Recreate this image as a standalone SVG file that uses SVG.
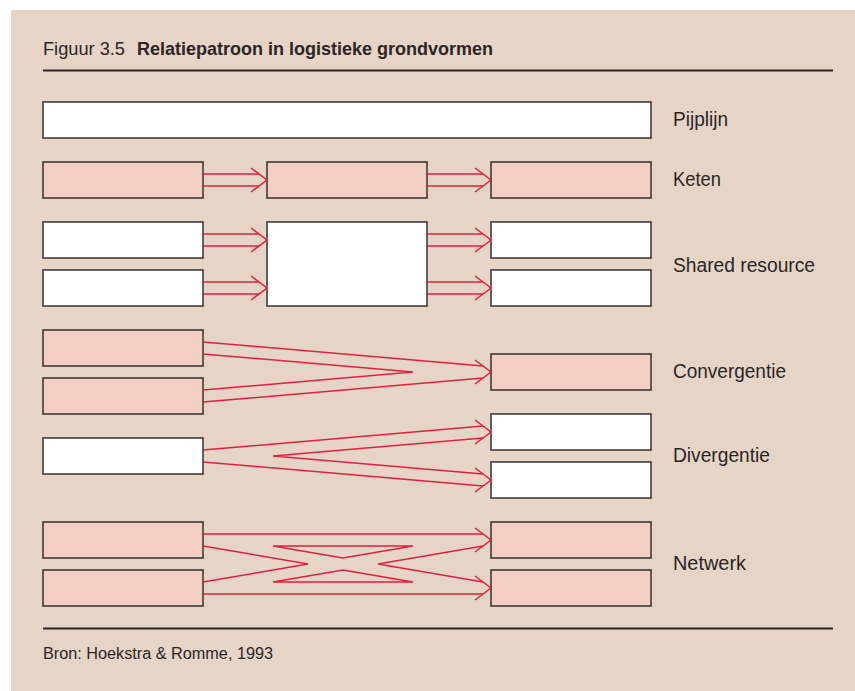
<svg xmlns="http://www.w3.org/2000/svg" xmlns:xlink="http://www.w3.org/1999/xlink" width="855" height="691" viewBox="0 0 855 691">
  <style>
    .bg { fill: #e6d5c6; }
    .rule { stroke: #2b2527; stroke-width: 2; }
    .box { stroke: #2a2426; stroke-width: 1.4; }
    .white { fill: #ffffff; }
    .pink { fill: #f4d0c4; }
    .link { fill: none; stroke: #e0213d; stroke-width: 1.5; stroke-linejoin: miter; }
    .label { font-family: "Liberation Sans", Arial, sans-serif; font-size: 19.5px; fill: #2b2527; }
    .title { font-family: "Liberation Sans", Arial, sans-serif; font-size: 18.5px; fill: #2b2527; }
    .bold { font-weight: bold; }
    .src { font-family: "Liberation Sans", Arial, sans-serif; font-size: 16px; fill: #2b2527; }
  </style>
  <defs>
    <!-- open arrowhead, tip at origin pointing right -->
    <path id="head" class="link" d="M-16,-12 L0,0 L-16,12"/>
  </defs>

  <rect class="bg" x="11" y="10" width="844" height="681"/>

  <!-- header -->
  <g id="header">
    <text class="title" x="43" y="55" textLength="82" lengthAdjust="spacingAndGlyphs">Figuur 3.5</text>
    <text class="title bold" x="137" y="55" textLength="356" lengthAdjust="spacingAndGlyphs">Relatiepatroon in logistieke grondvormen</text>
    <line class="rule" x1="43" y1="70.5" x2="833" y2="70.5"/>
  </g>

  <!-- Pijplijn -->
  <g id="pijplijn">
    <rect class="box white" x="43" y="102" width="608" height="36"/>
    <text class="label" x="673" y="126" textLength="55" lengthAdjust="spacingAndGlyphs">Pijplijn</text>
  </g>

  <!-- Keten -->
  <g id="keten">
    <rect id="keten-1" class="box pink" x="43" y="162" width="160" height="36"/>
    <rect id="keten-2" class="box pink" x="267" y="162" width="160" height="36"/>
    <rect id="keten-3" class="box pink" x="491" y="162" width="160" height="36"/>
    <text class="label" x="673" y="186" textLength="48" lengthAdjust="spacingAndGlyphs">Keten</text>
  </g>

  <!-- Shared resource -->
  <g id="shared">
    <rect id="shared-in-1" class="box white" x="43" y="222" width="160" height="36"/>
    <rect id="shared-in-2" class="box white" x="43" y="270" width="160" height="36"/>
    <rect id="shared-res" class="box white" x="267" y="222" width="160" height="84"/>
    <rect id="shared-out-1" class="box white" x="491" y="222" width="160" height="36"/>
    <rect id="shared-out-2" class="box white" x="491" y="270" width="160" height="36"/>
    <text class="label" x="673" y="272" textLength="142" lengthAdjust="spacingAndGlyphs">Shared resource</text>
  </g>

  <!-- Convergentie -->
  <g id="convergentie">
    <rect id="conv-in-1" class="box pink" x="43" y="330" width="160" height="36"/>
    <rect id="conv-in-2" class="box pink" x="43" y="378" width="160" height="36"/>
    <rect id="conv-out" class="box pink" x="491" y="354" width="160" height="36"/>
    <text class="label" x="673" y="378" textLength="113" lengthAdjust="spacingAndGlyphs">Convergentie</text>
  </g>

  <!-- Divergentie -->
  <g id="divergentie">
    <rect id="div-in" class="box white" x="43" y="438" width="160" height="36"/>
    <rect id="div-out-1" class="box white" x="491" y="414" width="160" height="36"/>
    <rect id="div-out-2" class="box white" x="491" y="462" width="160" height="36"/>
    <text class="label" x="673" y="462" textLength="97" lengthAdjust="spacingAndGlyphs">Divergentie</text>
  </g>

  <!-- Netwerk -->
  <g id="netwerk">
    <rect id="net-in-1" class="box pink" x="43" y="522" width="160" height="36"/>
    <rect id="net-in-2" class="box pink" x="43" y="570" width="160" height="36"/>
    <rect id="net-out-1" class="box pink" x="491" y="522" width="160" height="36"/>
    <rect id="net-out-2" class="box pink" x="491" y="570" width="160" height="36"/>
    <text class="label" x="673" y="570" textLength="73" lengthAdjust="spacingAndGlyphs">Netwerk</text>
  </g>

  <!-- connectors -->
  <g id="connectors">
    <!-- keten -->
    <path class="link" d="M203,174 H259 M203,186 H259 M427,174 H483 M427,186 H483"/>
    <use xlink:href="#head" x="267" y="180"/>
    <use xlink:href="#head" x="491" y="180"/>
    <!-- shared resource -->
    <path class="link" d="M203,234 H259 M203,246 H259 M203,282 H259 M203,294 H259"/>
    <path class="link" d="M427,234 H483 M427,246 H483 M427,282 H483 M427,294 H483"/>
    <use xlink:href="#head" x="267" y="240"/>
    <use xlink:href="#head" x="267" y="288"/>
    <use xlink:href="#head" x="491" y="240"/>
    <use xlink:href="#head" x="491" y="288"/>
    <!-- convergentie -->
    <path class="link" d="M203,342 L483,366 M203,402 L483,378 M203,354 L413,372 L203,390"/>
    <use xlink:href="#head" x="491" y="372"/>
    <!-- divergentie -->
    <path class="link" d="M203,450 L483,426 M203,462 L483,486 M483,438 L273,456 L483,474"/>
    <use xlink:href="#head" x="491" y="432"/>
    <use xlink:href="#head" x="491" y="480"/>
    <!-- netwerk -->
    <path class="link" d="M203,534 H483 M203,594 H483"/>
    <path class="link" d="M203,546 L308,564 L203,582 M483,546 L378,564 L483,582"/>
    <path class="link" d="M273,546 H413 L343,558 Z M273,582 H413 L343,570 Z"/>
    <use xlink:href="#head" x="491" y="540"/>
    <use xlink:href="#head" x="491" y="588"/>
  </g>

  <!-- footer -->
  <g id="footer">
    <line class="rule" x1="43" y1="628.5" x2="833" y2="628.5"/>
    <text class="src" x="43" y="659" textLength="230" lengthAdjust="spacingAndGlyphs">Bron: Hoekstra &amp; Romme, 1993</text>
  </g>
</svg>
